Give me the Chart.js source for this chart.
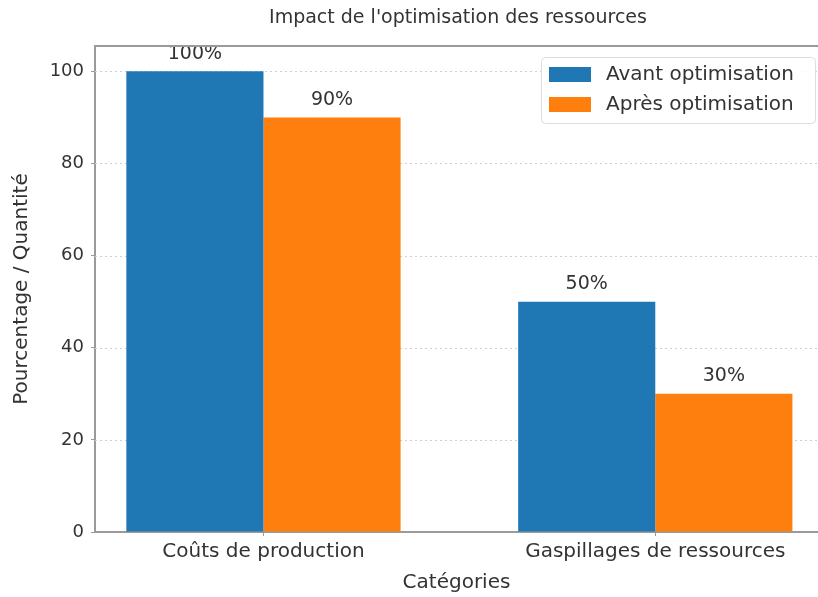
<!DOCTYPE html>
<html>
<head>
<meta charset="utf-8">
<script src="https://cdn.jsdelivr.net/npm/chart.js@4/dist/chart.umd.min.js"></script>
<style>
  html, body { margin: 0; padding: 0; background: #fff; overflow: hidden; }
  #wrap { width: 818px; height: 597px; }
</style>
</head>
<body>
<div id="wrap"><canvas id="chart" width="818" height="597"></canvas></div>
<script>
const titleText = "Impact de l'optimisation des ressources";
const categories = ['Coûts de production', 'Gaspillages de ressources'];
const seriesNames = ['Avant optimisation', 'Après optimisation'];
const avantValues = [100, 50];
const apresValues = [90, 30];
const yTicks = [0, 20, 40, 60, 80, 100];

const BLUE = '#1f77b4';
const ORANGE = '#ff7f0e';
const TEXT = '#333333';
const SPINE = '#9a9a9a';
const FONT = 'DejaVu Sans';

Chart.defaults.font.family = FONT;
Chart.defaults.color = TEXT;

// extras drawn by hand: title, top spine, dotted grid, value labels, legend box
const decor = {
  id: 'decor',
  beforeDatasetsDraw(chart) {
    const { ctx, chartArea } = chart;
    const y = chart.scales.y;
    ctx.save();
    ctx.strokeStyle = '#cfcfcf';
    ctx.lineWidth = 1;
    ctx.setLineDash([2, 3]);
    yTicks.forEach((v) => {
      if (v === 0) return;
      const py = Math.round(y.getPixelForValue(v)) + 0.5;
      ctx.beginPath();
      ctx.moveTo(chartArea.left, py);
      ctx.lineTo(chartArea.right, py);
      ctx.stroke();
    });
    ctx.restore();
  },
  afterDatasetsDraw(chart) {
    const { ctx } = chart;
    ctx.save();
    ctx.font = `19px ${FONT}`;
    ctx.fillStyle = TEXT;
    ctx.textAlign = 'center';
    ctx.textBaseline = 'bottom';
    chart.data.datasets.forEach((ds, i) => {
      chart.getDatasetMeta(i).data.forEach((bar, j) => {
        ctx.fillText(`${ds.data[j].y}%`, bar.x, bar.y - 8);
      });
    });
    ctx.restore();
  },
  afterDraw(chart) {
    const { ctx, chartArea } = chart;
    ctx.save();
    // top spine
    ctx.strokeStyle = SPINE;
    ctx.lineWidth = 2;
    ctx.beginPath();
    ctx.moveTo(chartArea.left - 1, chartArea.top);
    ctx.lineTo(chartArea.right, chartArea.top);
    ctx.stroke();

    // title
    ctx.font = `19px ${FONT}`;
    ctx.fillStyle = TEXT;
    ctx.textAlign = 'center';
    ctx.textBaseline = 'middle';
    ctx.fillText(titleText, 458, 18);

    // legend
    const bx = 541, by = 57, bw = 274, bh = 66;
    ctx.fillStyle = 'rgba(255,255,255,0.85)';
    ctx.strokeStyle = '#dddddd';
    ctx.lineWidth = 1;
    ctx.beginPath();
    ctx.roundRect(bx + 0.5, by + 0.5, bw, bh, 4);
    ctx.fill();
    ctx.stroke();
    const colors = [BLUE, ORANGE];
    ctx.font = `20px ${FONT}`;
    ctx.textAlign = 'left';
    seriesNames.forEach((name, i) => {
      const cy = 74 + i * 30;
      ctx.fillStyle = colors[i];
      ctx.fillRect(549, cy - 7, 42, 15);
      ctx.fillStyle = TEXT;
      ctx.fillText(name, 606, cy + 1);
    });
    ctx.restore();
  },
};

const toPoints = (vals) => vals.map((v, i) => ({ x: i, y: v }));

new Chart(document.getElementById('chart'), {
  type: 'bar',
  data: {
    datasets: [
      { label: seriesNames[0], data: toPoints(avantValues), backgroundColor: BLUE, borderWidth: 0 },
      { label: seriesNames[1], data: toPoints(apresValues), backgroundColor: ORANGE, borderWidth: 0 },
    ],
  },
  options: {
    responsive: false,
    animation: false,
    events: [],
    categoryPercentage: 0.7,
    barPercentage: 1.0,
    layout: { padding: { left: 0, right: 0, top: 46, bottom: 0 } },
    plugins: {
      legend: { display: false },
      tooltip: { enabled: false },
      title: { display: false },
    },
    scales: {
      x: {
        type: 'linear',
        offset: false,
        min: -0.43,
        max: 1.4153,
        afterBuildTicks(scale) {
          scale.ticks = categories.map((c, i) => ({ value: i }));
        },
        afterFit(scale) { scale.height = 65; },
        ticks: {
          autoSkip: false,
          maxRotation: 0,
          padding: 4,
          font: { size: 20 },
          color: TEXT,
          callback: (v) => categories[v] ?? '',
        },
        grid: { drawOnChartArea: false, drawTicks: true, tickLength: 4, color: SPINE, offset: false },
        border: { color: SPINE, width: 2 },
        title: { display: true, text: 'Catégories', font: { size: 20 }, color: TEXT, padding: { top: 2, bottom: 2 } },
      },
      y: {
        min: 0,
        max: 105.5,
        afterBuildTicks(scale) {
          scale.ticks = yTicks.map((v) => ({ value: v }));
        },
        afterFit(scale) { scale.width = 95; },
        ticks: { padding: 7, font: { size: 18 }, color: TEXT, includeBounds: false },
        grid: { drawOnChartArea: false, drawTicks: true, tickLength: 4, color: SPINE },
        border: { color: SPINE, width: 2 },
        title: { display: true, text: 'Pourcentage / Quantité', font: { size: 20 }, color: TEXT, padding: { top: 10, bottom: 0 } },
      },
    },
  },
  plugins: [decor],
});
</script>
</body>
</html>
